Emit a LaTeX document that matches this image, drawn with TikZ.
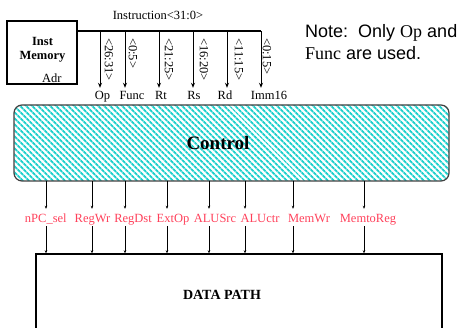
\documentclass[tikz,border=0pt]{standalone}
\usepackage{fontspec}
\setmainfont{Liberation Serif}
\newfontfamily\notefont{Liberation Sans}
\usetikzlibrary{arrows.meta,patterns.meta,positioning}
\definecolor{hatchcyan}{RGB}{30,208,204}
\definecolor{sigred}{RGB}{255,64,90}

\begin{document}
\begin{tikzpicture}[x=1pt,y=1pt,>={Stealth[length=5pt,width=4pt]},
    box/.style={draw,line width=1.4pt},
    field/.style={font=\fontsize{12.5}{14}\selectfont,anchor=base,text height=9pt,text depth=3pt,inner ysep=3pt},
    bitrange/.style={font=\fontsize{12.5}{14}\selectfont,anchor=west,rotate=-90,inner sep=0pt},
    sig/.style={text=sigred,font=\fontsize{12.5}{14}\selectfont,anchor=base,text height=11pt,text depth=1pt,inner ysep=2.5pt},
    sigline/.style={line width=0.8pt,>={Stealth[length=3pt,width=2.5pt]}},
    ctrlbox/.style={draw=black!75,line width=1.2pt,rounded corners=8pt,minimum width=435pt,minimum height=76pt,
        pattern={Lines[angle=-45,distance=4pt,line width=2.1pt]},pattern color=hatchcyan},
    note/.style={font=\notefont\fontsize{18}{20}\selectfont,anchor=base west,inner sep=0pt}]

    \useasboundingbox (0,0) rectangle (468,328);
    \clip (0,0) rectangle (468,328);

    \node[box,minimum width=70pt,minimum height=63pt] (imem) at (42,275.5) {};
    \node[font=\bfseries\fontsize{12.5}{14}\selectfont,align=center] (imemlabel) at (42.5,278) {Inst\\Memory};
    \node[field,anchor=base east] (adr) at (65,245) {Adr};
    \node[field,anchor=center] (instr) at (158,311) {Instruction<31:0>};

    \foreach \x/\lx/\rx/\name/\bits [count=\i] in {100/102.5/109/Op/<26:31>,125/132/133/Func/<0:5>,
        159/161/169/Rt/<21:25>,193/194/204/Rs/<16:20>,227/225/239/Rd/<11:15>,261/269/267/Imm16/<0:15>}{
        \coordinate (b\i) at (\x,296.5);
        \node[field] (f\i) at (\lx,228) {\name};
        \node[bitrange] (r\i) at (\rx,290) {\bits};
        \draw[->,line width=1pt] (b\i) -- (b\i |- f\i.north);
    }

    \draw[line width=2pt] (imem.east |- b1) -- (b6);

    \node[ctrlbox] (ctrl) at (231.5,185) {};
    \node[font=\bfseries\fontsize{19}{22}\selectfont] (ctrllabel) at (218,185) {Control};

    \node[box,minimum width=406pt,minimum height=100pt] (dp) at (239,24) {};
    \node[font=\bfseries\fontsize{14}{16}\selectfont] (dplabel) at (222,33) {DATA PATH};

    \foreach \x/\lx/\name [count=\i] in {46/45.8/nPC\_sel,92/92.5/RegWr,125/133/RegDst,167/173/ExtOp,
        209/215/ALUSrc,245/260/ALUctr,293/309/MemWr,364/368/MemtoReg}{
        \coordinate (c\i) at (\x,147);
        \node[sig] (s\i) at (\lx,105.5) {\name};
        \draw[->,sigline] (c\i) -- (c\i |- s\i.north);
        \draw[->,sigline] (c\i |- s\i.south) -- (c\i |- dp.north);
    }

    \node[note] (note1) at (305,290.5) {Note:\ \ Only {\rmfamily Op} and};
    \node[note] (note2) at (305,268) {{\rmfamily Func} are used.};

\end{tikzpicture}
\end{document}
